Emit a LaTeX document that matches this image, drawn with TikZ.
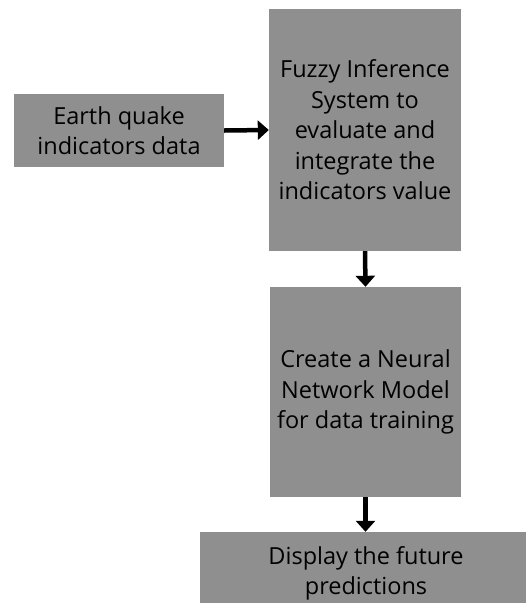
\documentclass[tikz,border=0pt]{standalone}
\usepackage{fontspec}
\setmainfont{Open Sans}
\usetikzlibrary{arrows.meta}
\begin{document}
\begin{tikzpicture}[x=1pt,y=-1pt,
  box/.style={fill=boxgray,draw=none,inner sep=0pt,align=center,font=\fontsize{23.5}{30.5}\selectfont,text=black},
  conn/.style={line width=4.5pt,-{Triangle[length=11pt,width=19pt]}}]
\definecolor{boxgray}{HTML}{8F8F8F}
\useasboundingbox (0,0) rectangle (526,603);
\node[box,minimum width=210pt,minimum height=73pt] (eq) at (119,130.5) {Earth quake\\indicators data};
\node[box,minimum width=192pt,minimum height=242pt] (fis) at (365,130) {Fuzzy Inference\\System to\\evaluate and\\integrate the\\indicators value};
\node[box,minimum width=191pt,minimum height=210pt] (nn) at (365.5,392) {Create a Neural\\Network Model\\for data training};
\node[box,minimum width=326pt,minimum height=83pt] (dp) at (363,573.5) {\hspace*{6pt}Display the future\\\hspace*{6pt}predictions};
\draw[conn] (eq.east) -- (fis.west);
\draw[conn] (fis.south) -- (nn.north);
\draw[conn] (nn.south) -- (nn.south |- dp.north);
\end{tikzpicture}
\end{document}
